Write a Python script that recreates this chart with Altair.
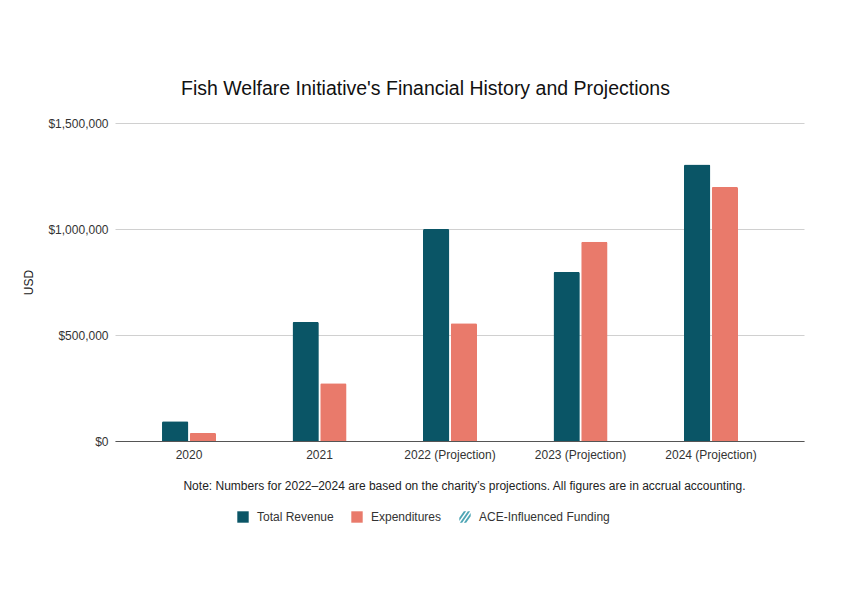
import altair as alt
import pandas as pd

years = ["2020", "2021", "2022 (Projection)", "2023 (Projection)", "2024 (Projection)"]
revenue = [93000, 561000, 1000000, 797000, 1304000]
expenditures = [38000, 272000, 556000, 940000, 1198000]
series_names = ["Total Revenue", "Expenditures", "ACE-Influenced Funding"]
series_colors = ["#0a5566", "#e97a6b", "#4fa6b5"]
y_ticks = [0, 500000, 1000000, 1500000]

FONT = "Liberation Sans"

rows = []
for i, yr in enumerate(years):
    rows.append({"year": yr, "series": series_names[0], "value": revenue[i]})
    rows.append({"year": yr, "series": series_names[1], "value": expenditures[i]})
df = pd.DataFrame(rows)

legend_df = pd.DataFrame({"series": series_names})

hatch = ("M-1,0.143 L-0.2,-1 L0.2,-1 L-1,0.714 Z "
         "M-0.9,1 L-0.5,1 L0.9,-1 L0.5,-1 Z "
         "M-0.2,1 L0.2,1 L1,-0.143 L1,-0.714 Z")

note = "Note: Numbers for 2022\u20132024 are based on the charity\u2019s projections. All figures are in accrual accounting."

bars = alt.Chart(df).mark_bar(cornerRadiusTopLeft=1.5, cornerRadiusTopRight=1.5).encode(
    x=alt.X("year:N", sort=years,
            scale=alt.Scale(paddingInner=0.586, paddingOuter=0.433, align=0.416),
            axis=alt.Axis(title=note, labelAngle=0, ticks=False, labelPadding=8,
                          labelFontSize=12, labelColor="#333333", labelFont=FONT,
                          domainColor="#555555", domainWidth=1,
                          titleFont=FONT, titleFontSize=12, titleFontWeight="normal",
                          titleColor="#222222", titlePadding=20, titleX=349)),
    xOffset=alt.XOffset("series:N", sort=series_names[:2],
                        scale=alt.Scale(paddingInner=0.05)),
    y=alt.Y("value:Q", scale=alt.Scale(domain=[0, 1500000], nice=False),
            axis=alt.Axis(title="USD", values=y_ticks, format="$,.0f", ticks=False,
                          domain=False, gridColor="#d0d0d0", labelPadding=7,
                          labelFontSize=12, labelColor="#333333", labelFont=FONT,
                          titleFont=FONT, titleFontSize=12, titleFontWeight="normal",
                          titleColor="#222222", titlePadding=12)),
    color=alt.Color("series:N", scale=alt.Scale(domain=series_names, range=series_colors),
                    legend=None),
)

leg = alt.Legend(title=None, orient="none", legendX=122, legendY=388,
                 direction="horizontal", symbolSize=130, symbolStrokeWidth=0,
                 labelFontSize=12, labelFont=FONT, labelColor="#333333",
                 labelOffset=8, columnPadding=17)

legend_layer = alt.Chart(legend_df).mark_point(filled=True, opacity=1).encode(
    color=alt.Color("series:N", scale=alt.Scale(domain=series_names, range=series_colors),
                    legend=leg),
    shape=alt.Shape("series:N", scale=alt.Scale(domain=series_names,
                                                range=["square", "square", hatch]),
                    legend=leg),
).transform_filter("false")

chart = alt.layer(bars, legend_layer).resolve_scale(
    color="independent", shape="independent"
).resolve_legend(color="independent", shape="independent").properties(
    width=689, height=318,
    title=alt.Title("Fish Welfare Initiative's Financial History and Projections",
                    font=FONT, fontSize=19.5, fontWeight="normal", color="#111111",
                    anchor="middle", offset=18, dx=-34),
    autosize="none",
    padding={"left": 107, "top": 115, "right": 30, "bottom": 100},
).configure(background="white").configure_view(strokeWidth=0, stroke="transparent")

chart.save("out.html", embed_options={"renderer": "svg", "actions": False})
